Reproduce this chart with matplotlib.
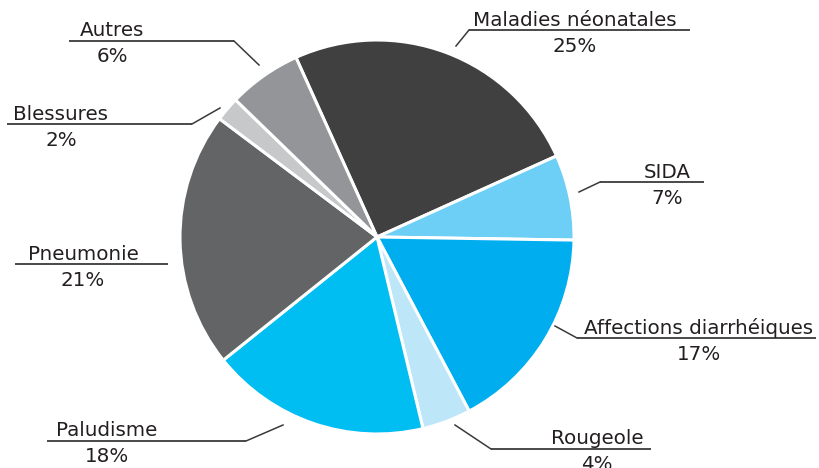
import matplotlib
matplotlib.use("Agg")
import matplotlib.pyplot as plt

categories = ["Maladies néonatales", "SIDA", "Affections diarrhéiques", "Rougeole",
              "Paludisme", "Pneumonie", "Blessures", "Autres"]
values = [25, 7, 17, 4, 18, 21, 2, 6]
colors = ["#404041", "#6dcff6", "#00aeef", "#bde6f9", "#00bdf2", "#636466", "#c7c8ca", "#939598"]

# layout of labels (pixel coords, y from top)
layout = {
    "Maladies néonatales": dict(tx=575, ly=30, lx0=469, lx1=690, pts=[(456, 46), (469, 30)]),
    "SIDA": dict(tx=667, ly=182, lx0=600, lx1=704, pts=[(579, 192), (600, 182)]),
    "Affections diarrhéiques": dict(tx=699, ly=338, lx0=577, lx1=816, pts=[(555, 326), (577, 338)]),
    "Rougeole": dict(tx=597, ly=449, lx0=491, lx1=651, pts=[(455, 425), (491, 449)]),
    "Paludisme": dict(tx=107, ly=441, lx0=47, lx1=246, pts=[(283, 425), (246, 441)]),
    "Pneumonie": dict(tx=83, ly=264, lx0=15, lx1=168, pts=None),
    "Blessures": dict(tx=61, ly=124, lx0=7, lx1=192, pts=[(220, 108), (192, 124)]),
    "Autres": dict(tx=112, ly=41, lx0=69, lx1=234, pts=[(259, 65), (234, 41)]),
}

W, H = 820, 468
fig = plt.figure(figsize=(W / 100, H / 100), dpi=100)
ax = fig.add_axes([0, 0, 1, 1])

ax.pie(values, colors=colors, startangle=114.3, counterclock=False,
       center=(377, H - 237), radius=197,
       wedgeprops=dict(edgecolor="white", linewidth=2.2), frame=True)
ax.set_xlim(0, W)
ax.set_ylim(0, H)
ax.set_aspect("auto")
ax.axis("off")

font = dict(family=["DejaVu Sans"], fontsize=14.3, color="#231f20")
lc = "#3a3a3a"
for cat, v in zip(categories, values):
    L = layout[cat]
    y = H - L["ly"]
    ax.plot([L["lx0"], L["lx1"]], [y, y], color=lc, lw=1.3, solid_capstyle="butt")
    if L["pts"]:
        xs = [p[0] for p in L["pts"]]
        ys = [H - p[1] for p in L["pts"]]
        ax.plot(xs, ys, color=lc, lw=1.1)
    ax.text(L["tx"], y + 4.5, cat, ha="center", va="baseline", **font)
    ax.text(L["tx"], y - 21.5, f"{v}%", ha="center", va="baseline", **font)

fig.savefig("out.png", dpi=100)
